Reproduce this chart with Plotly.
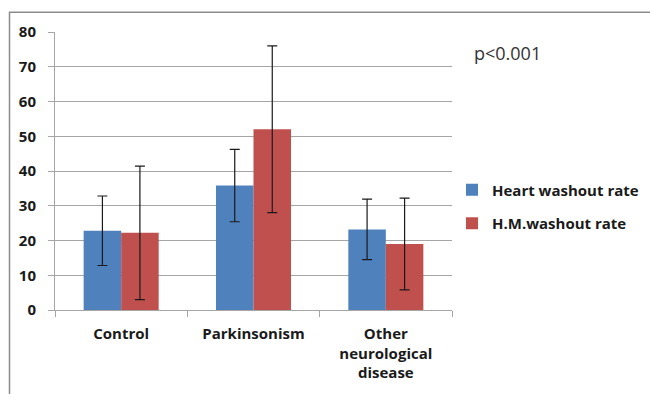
import plotly.graph_objects as go

categories = ["Control", "Parkinsonism", "Other<br>neurological<br>disease"]
heart_rate = [22.8, 35.8, 23.2]
heart_err = [10.0, 10.4, 8.7]
hm_rate = [22.2, 52.0, 19.0]
hm_err = [19.2, 24.0, 13.2]
series_names = ["Heart washout rate", "H.M.washout rate"]
y_ticks = [0, 10, 20, 30, 40, 50, 60, 70, 80]

BLUE = "#4F81BD"
RED = "#C0504D"
GRID = "#a6a6a6"
FONT = "Open Sans"

fig = go.Figure()
for name, vals, errs, color, grp in [
    (series_names[0], heart_rate, heart_err, BLUE, "g1"),
    (series_names[1], hm_rate, hm_err, RED, "g2"),
]:
    fig.add_trace(go.Bar(
        x=categories, y=vals, name=name, legendgroup=grp,
        marker=dict(color=color, line=dict(width=0)),
        error_y=dict(type="data", array=errs, visible=True,
                     color="#1a1a1a", thickness=1.2, width=5),
    ))

# Outer chart frame (partly cut off on the right and bottom)
fig.add_shape(type="rect", xref="paper", yref="paper",
              x0=-0.1146, x1=1.6, y0=-0.5, y1=1.0713,
              line=dict(color="#8c8c8c", width=1.5), layer="below")

fig.add_annotation(text="p<0.001", xref="paper", yref="paper",
                   x=1.05, y=0.925, xanchor="left", yanchor="middle",
                   showarrow=False,
                   font=dict(family=FONT, size=18, color="#333333"))

fig.update_layout(
    width=650, height=394,
    margin=dict(l=55, r=198, t=32, b=84, autoexpand=False),
    paper_bgcolor="white", plot_bgcolor="white",
    barmode="group", bargap=0.433, bargroupgap=0,
    font=dict(family=FONT, color="#1a1a1a"),
    showlegend=True,
    legend=dict(x=1.0, y=0.372, xanchor="left", yanchor="middle",
                font=dict(family=FONT, size=15, color="#1a1a1a", weight="bold"),
                tracegroupgap=11, itemwidth=30, bgcolor="rgba(0,0,0,0)"),
)
fig.update_xaxes(
    showline=True, linecolor=GRID, linewidth=1,
    ticks="outside", tickson="boundaries", ticklen=6, tickcolor=GRID,
    tickfont=dict(family=FONT, size=15, weight="bold", color="#1a1a1a"),
    ticklabelstandoff=10,
)
fig.update_yaxes(
    range=[0, 80], tickvals=y_ticks, showgrid=True, gridcolor=GRID, gridwidth=1,
    showline=True, linecolor=GRID, linewidth=1, zeroline=False,
    ticks="outside", ticklen=6, tickcolor=GRID,
    tickfont=dict(family=FONT, size=15, weight="bold", color="#1a1a1a"),
    ticklabelstandoff=9,
)

fig.write_html("out.html")
